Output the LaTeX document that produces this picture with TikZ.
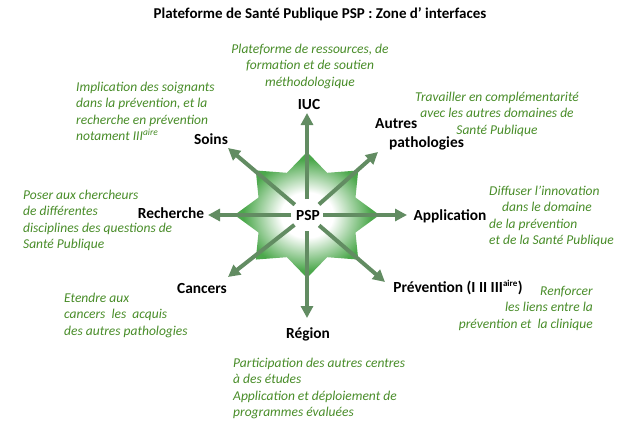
\documentclass[tikz,border=0pt]{standalone}
\usepackage{fontspec}
\setmainfont{Carlito}
\usepackage{xcolor}
\usetikzlibrary{arrows.meta,positioning,shapes.geometric}

\definecolor{spokegreen}{RGB}{98,140,98}
\definecolor{stargreen}{RGB}{76,168,76}
\definecolor{notegreen}{RGB}{72,140,40}
\pgfdeclareradialshading{starshade}{\pgfpoint{0bp}{0bp}}{color(0bp)=(white); color(9bp)=(white); color(22bp)=(stargreen); color(50bp)=(stargreen)}
\newcommand{\notefont}{\fontsize{13.5}{16.4}\selectfont\itshape}
\newcommand{\lblfont}{\fontsize{15.4}{19}\selectfont\bfseries}

\begin{document}
\begin{tikzpicture}[
        x=1pt,y=-1pt,
        note/.style={font=\notefont,text=notegreen,inner sep=0pt,align=left,anchor=north west},
        lbl/.style={font=\lblfont,inner sep=0pt,anchor=base},
        spoke/.style={draw=spokegreen,line width=4pt,-{Triangle[length=12pt,width=12pt]},shorten <=16pt},
        starbox/.style={star,star points=8,star point ratio=1.38,minimum size=126pt,inner sep=0pt,shading=starshade,xscale=1.15}
    ]
        \useasboundingbox (0,0) rectangle (623,421);

        \node[font=\fontsize{15}{18}\selectfont\bfseries,anchor=base,inner sep=0pt] (title) at (320,18) {Plateforme de Santé Publique PSP : Zone d’ interfaces};

        \node[starbox] (star) at (307,215) {};
        \node[lbl] (psp) at (308,220) {PSP};
        \coordinate (hub) at (307,215);

        \node[lbl] (iuc) at (309,109) {IUC};
        \node[lbl,anchor=north west,align=left] (autres) at (375,118) {Autres\\\hspace*{14pt}pathologies};
        \node[lbl] (soins) at (211,144) {Soins};
        \node[lbl] (recherche) at (171,218) {Recherche};
        \node[lbl] (application) at (450,220) {Application};
        \node[lbl] (cancers) at (202,293) {Cancers};
        \node[lbl] (prevention) at (458,292) {Prévention (I II III\textsuperscript{\small aire})};
        \node[lbl] (region) at (308,338) {Région};

        \coordinate (tIuc) at (307,113);
        \coordinate (tAutres) at (378,152);
        \coordinate (tSoins) at (228,148);
        \coordinate (tRecherche) at (208,215);
        \coordinate (tApplication) at (407,215);
        \coordinate (tCancers) at (228,277);
        \coordinate (tPrevention) at (385,282);
        \coordinate (tRegion) at (307,318);

        \draw[spoke] (hub) -- (tIuc);
        \draw[spoke] (hub) -- (tAutres);
        \draw[spoke] (hub) -- (tSoins);
        \draw[spoke] (hub) -- (tRecherche);
        \draw[spoke] (hub) -- (tApplication);
        \draw[spoke] (hub) -- (tCancers);
        \draw[spoke] (hub) -- (tPrevention);
        \draw[spoke] (hub) -- (tRegion);

        \node[note,anchor=north,align=center] (iucnote) at (310,44) {Plateforme de ressources, de\\formation et de soutien\\méthodologique};
        \node[note] (soinsnote) at (76,82) {Implication des soignants\\dans la prévention, et la\\recherche en prévention\\notament III\textsuperscript{aire}};
        \node[note,anchor=north,align=center] (autresnote) at (497,92) {Travailler en complémentarité\\avec les autres domaines de\\Santé Publique};
        \node[note] (recherchenote) at (23,190) {Poser aux chercheurs\\de différentes\\disciplines des questions de\\Santé Publique};
        \node[note] (applicationnote) at (489,186) {Diffuser l'innovation\\\hspace*{13pt}dans le domaine\\de la prévention\\et de la Santé Publique};
        \node[note] (cancersnote) at (64,293) {Etendre aux\\cancers\ \ les\ \ acquis\\des autres pathologies};
        \node[note,anchor=north east,align=right] (preventionnote) at (593,286) {Renforcer\\les liens entre la\\prévention et\ \ la clinique};
        \node[note] (regionnote) at (233,358) {Participation des autres centres\\à des études\\Application et déploiement de\\programmes évaluées};
    \end{tikzpicture}
\end{document}
